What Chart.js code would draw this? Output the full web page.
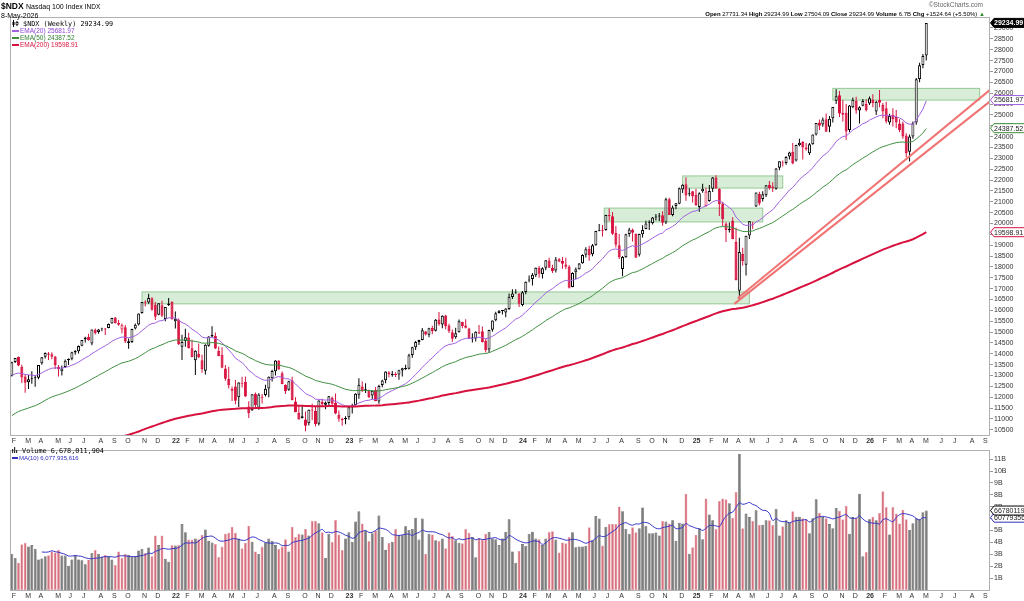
<!DOCTYPE html>
<html><head><meta charset="utf-8">
<script src="https://cdn.jsdelivr.net/npm/chart.js@4.4.1/dist/chart.umd.min.js"></script>
<style>
html,body{margin:0;padding:0;background:#fff;width:1024px;height:601px;overflow:hidden;position:relative;font-family:"Liberation Sans",Arial,sans-serif;color:#000;}
canvas{position:absolute;left:0;}
#c1{top:0;}
#c2{top:445px;}
.t{position:absolute;white-space:nowrap;line-height:1;z-index:5;}
.mono{font-family:"DejaVu Sans Mono",monospace;}
.ln{display:inline-block;width:7px;height:0;border-top:2px solid;vertical-align:middle;margin-right:1px;}
</style></head><body>
<canvas id="c1" width="1024" height="445"></canvas>
<canvas id="c2" width="1024" height="156"></canvas>

<div class="t" style="left:1px;top:2px;font-size:8.5px;font-weight:bold;">$NDX</div>
<div class="t" style="left:26px;top:3px;font-size:7px;">Nasdaq 100 Index <span style="font-size:6.5px">INDX</span></div>
<div class="t" style="left:1px;top:12px;font-size:7px;">8-May-2026</div>
<div class="t" style="right:41px;top:2px;font-size:6.5px;color:#666;">&copy;StockCharts.com</div>
<div class="t" style="right:39px;top:11px;font-size:6px;"><b>Open</b> 27731.34 <b>High</b> 29234.99 <b>Low</b> 27504.09 <b>Close</b> 29234.99 <b>Volume</b> 6.7B <b>Chg</b> +1524.64 (+5.50%) <span style="color:#2a8a2a">&#9650;</span></div>

<div class="t mono" style="left:12px;top:20px;font-size:6.8px;"><svg width="7" height="7" style="vertical-align:-1px"><line x1="1.5" y1="0" x2="1.5" y2="7" stroke="#000"/><rect x="0.5" y="2" width="2" height="3" fill="#000"/><line x1="5" y1="1" x2="5" y2="6" stroke="#000"/><rect x="4" y="2.5" width="2" height="2" fill="#fff" stroke="#000" stroke-width="0.7"/></svg> $NDX (Weekly) 29234.99</div>
<div class="t" style="left:12px;top:28px;font-size:6.5px;color:#8e44d6;"><span class="ln" style="border-color:#a060e0"></span>EMA(20) 25681.97</div>
<div class="t" style="left:12px;top:35px;font-size:6.5px;color:#2f7f2f;"><span class="ln" style="border-color:#3f8f3f"></span>EMA(50) 24387.52</div>
<div class="t" style="left:12px;top:42px;font-size:6.5px;color:#d8123e;"><span class="ln" style="border-color:#d8123e"></span>EMA(200) 19598.91</div>

<div class="t mono" style="left:12px;top:447px;font-size:6.8px;"><svg width="6" height="6" style="vertical-align:0px"><rect x="0" y="2" width="1.2" height="4" fill="#333"/><rect x="2" y="0" width="1.2" height="6" fill="#333"/><rect x="4" y="3" width="1.2" height="3" fill="#333"/></svg> Volume 6,678,011,904</div>
<div class="t" style="left:12px;top:455px;font-size:6px;color:#3030c0;"><span class="ln" style="border-color:#3030c0;width:6px"></span>MA(10) 6,077,935,616</div>

<script>
// ---------------- DATA ----------------
const firstWeek = '2021-02-05';
const opens = [12990,13620,13850,13400,12960,12690,12850,12920,12900,13560,
13860,14010,13980,13880,13400,13200,13390,13700,13770,14060,
14120,14370,14660,14770,14480,15110,15000,15130,15150,15190,
15400,15670,15420,15120,15220,14500,14540,15160,15350,15880,
16400,16360,16560,16260,15800,16230,15600,16250,16380,15500,
15560,14330,14590,14750,14260,13700,14000,13700,13220,14370,
14800,14820,14130,13960,13320,12840,12300,12500,12000,12650,
12700,11570,11400,12150,11520,12020,12100,12400,12870,13200,
13680,13100,12560,12340,12780,11800,11280,11130,10980,10800,
11440,11380,10780,11780,11660,11740,11980,11740,11200,11000,
10990,11080,11530,11640,12120,12500,12330,12320,12080,12330,
11810,12560,12780,13140,13010,13050,13050,13230,13310,13310,
13950,14300,14540,14640,15030,14880,15190,15060,15580,15350,
15760,15300,14990,14760,14990,15470,15300,15170,14750,14700,
14930,15040,14600,14200,15110,15540,15880,15990,15900,16060,
16620,16790,16780,16250,16850,17370,17440,17620,17950,17670,
17960,18300,17960,17830,18350,18270,18110,18020,17070,17750,
17890,18170,18560,18820,18580,19000,19660,19690,19700,20390,
20330,19570,19000,17900,18450,19520,19710,19520,18560,19500,
19750,20040,20010,20280,20340,20380,20050,21120,20390,20810,
20910,21560,21810,21350,21480,21310,20760,21480,20800,21040,
21600,22120,21590,20920,20000,19700,20120,19150,16900,18600,
18100,19450,19950,20780,21360,21130,21300,21770,21700,21600,
22560,22800,22790,23080,23300,22900,23600,23750,23500,23230,
23650,24100,24650,24560,24800,24450,24850,25650,25900,25100,
25100,24300,25350,25650,25200,25420,25500,25520,25700,25150,
25680,25450,25300,24650,25000,24900,24600,24600,24050,23300,
24000,24650,26650,27300,27731.34];
const highs = [13640,13810,13880,13500,13050,13030,13200,13000,13490,13850,
14060,14080,14070,13900,13480,13460,13740,13780,14090,14180,
14380,14640,14790,14920,15120,15170,15140,15200,15190,15390,
15660,15700,15560,15400,15330,14700,15150,15390,15860,16390,
16460,16770,16600,16390,16330,16440,16160,16570,16420,15950,
15620,14880,15150,14970,14650,14160,14470,13960,14440,14810,
15270,14980,14340,14300,13480,13400,12500,12790,12690,12940,
12950,11820,12140,12220,12180,12150,12570,12960,13270,13700,
13720,13190,12600,12760,12940,12000,11640,11600,11340,11440,
11700,11600,11860,11930,11800,12060,12030,12170,11390,11060,
11130,11560,11700,12180,12880,12720,12640,12340,12310,12470,
12580,12800,13190,13210,13210,13150,13270,13360,13500,14000,
14320,14590,14650,15190,15050,15200,15290,15600,15930,15770,
15800,15380,15120,15200,15580,15480,15590,15200,14950,15040,
15330,15260,14710,15110,15530,15940,16020,16020,16100,16780,
16970,16970,16790,16890,17330,17600,17720,17970,18040,17980,
18310,18420,18100,18460,18410,18460,18420,18080,17760,17970,
18180,18580,18910,18980,19060,19660,19980,19930,20400,20690,
20530,19880,19520,18500,19530,19800,19770,19540,19530,19920,
20130,20150,20300,20440,20480,20560,21180,21180,20830,20940,
21660,21810,22130,21620,21500,21600,21440,21830,21650,21770,
22140,22220,21620,21000,20060,20050,20290,19800,19340,18880,
19440,20110,20080,21430,21460,21480,21770,21950,21900,22550,
22870,22900,23100,23300,23700,23620,23900,23800,23700,23700,
24100,24630,24790,24880,25060,24950,25360,26180,26100,25680,
25500,25450,25800,25830,25400,25730,25720,25850,25950,25650,
26150,25550,25600,25050,25300,25220,24800,24700,24150,24100,
24700,26700,27400,27800,29234.99];
const lows = [12950,13580,13430,12660,12210,12380,12620,12480,12830,13500,
13780,13720,13750,13300,12950,13000,13350,13480,13700,13960,
14010,14350,14520,14600,14390,14890,14920,15040,14870,15180,
15390,15400,15290,14950,14500,14230,14500,15120,15300,15840,
16180,16300,15980,15560,15780,15690,15500,16200,15570,15170,
14400,13720,14320,14240,13840,13020,13800,13130,13050,14330,
14760,14220,13890,13330,12760,12400,11830,11680,11550,12450,
12020,11040,11370,11500,11430,11710,12040,12000,12720,13000,
13270,12600,12150,12300,11860,11310,10970,11020,10440,10700,
10950,10650,10700,11570,11450,11580,11590,11220,10870,10690,
10760,10960,11250,11620,11930,12240,12200,11970,11910,11820,
11700,12460,12650,12920,12940,12930,12800,12950,13250,13280,
13820,14180,14400,14620,14840,14760,14900,15030,15290,15180,
15130,14960,14560,14690,14980,15180,15170,14680,14520,14570,
14910,14520,14060,14060,15010,15500,15860,15810,15680,16020,
16520,16760,16160,16190,16740,17300,17150,17540,17500,17470,
17850,17960,17720,17740,18220,17920,17900,17010,17060,17440,
17880,18150,18430,18280,18490,18970,19640,19400,19670,20120,
19470,18890,18370,17570,18420,19390,19170,18420,18480,19350,
19740,19700,19950,20140,20110,19900,19980,20390,20330,20660,
20880,21400,21050,21250,20970,20800,20540,21420,20770,21000,
21450,21600,20350,19880,19150,19580,19270,17380,16540,18050,
17600,19280,19750,20760,20830,21010,21220,21550,21450,21550,
22450,22620,22700,22950,22730,22850,23550,22950,23350,23150,
23620,24050,24300,24450,24220,24200,24650,25500,24900,24700,
23850,24200,25300,25050,24600,25400,25150,25450,25350,24990,
25350,24840,24610,24550,24460,24380,24200,23900,23050,22850,
23900,24550,26500,27150,27504.09];
const closes = [13613,13808,13460,12909,12668,12823,12849,12879,13480,13845,
14041,13951,13860,13480,13296,13322,13686,13770,14069,14129,
14359,14640,14756,14626,15117,14959,15122,15164,15137,15375,
15653,15405,15336,15311,14566,14579,15146,15335,15850,16385,
16351,16573,16026,15711,16325,15751,16156,16320,15594,15611,
14438,14543,14757,14253,13849,14141,13838,13301,14419,14797,
14862,14245,13902,13355,12855,12552,12387,11835,12681,12606,
12035,11264,12135,11636,12125,11980,12397,12947,13206,13696,
13277,12605,12271,12740,11862,11312,10971,11040,10692,11429,
11395,10756,11851,11677,11758,12045,11705,11247,11015,10940,
11040,11542,11619,12166,12574,12304,12359,12008,12302,11830,
12520,12767,13181,13062,13079,13041,13246,13339,13340,13938,
14298,14547,14639,15083,14891,15180,15036,15565,15358,15751,
15274,15035,14695,14941,15501,15284,15203,14702,14715,15015,
14996,14540,14180,15097,15529,15868,15983,15998,16085,16623,
16777,16826,16306,16832,17314,17421,17642,17963,17685,17937,
18302,17962,17808,18339,18255,18148,18003,17037,17718,17891,
18161,18547,18808,18537,19000,19659,19700,19683,20392,20332,
19523,19023,18440,18452,19508,19721,19575,18421,19520,19702,
20000,20074,20272,20324,20352,20033,21118,20394,20740,20930,
21623,21781,21289,21393,21257,20847,21386,21603,21478,21491,
22115,21614,20884,20202,19704,19754,19282,17398,18690,18258,
19433,20102,19920,21427,20915,21340,21762,21631,21626,22534,
22867,22780,23065,23272,22763,23611,23713,23499,23415,23652,
24093,24626,24504,24785,24221,24818,25358,25858,25060,25008,
24239,25435,25692,25197,25346,25644,25220,25760,25550,25600,
25560,25150,24700,24950,24800,24650,24300,24000,23230,24000,
24620,26640,27290,27710.35,29234.99];
// weekly volume, billions of shares
const volumesB = [3.03,2.70,2.30,3.84,3.97,3.65,3.78,3.46,2.57,2.65,
2.84,2.92,3.24,3.16,3.38,2.89,2.89,2.03,2.57,2.97,
2.57,2.49,2.16,2.57,3.11,3.38,3.05,2.78,2.97,2.84,
2.57,2.11,3.24,2.70,3.05,2.97,2.78,2.84,3.32,3.46,
3.11,3.57,2.84,4.59,3.78,4.59,2.62,2.38,3.78,3.73,
3.78,5.54,4.86,4.24,4.24,4.32,4.27,4.65,5.08,4.11,
4.00,3.86,2.78,3.65,4.73,4.81,5.32,4.81,4.32,3.51,
3.97,5.40,4.05,3.24,3.03,3.65,4.00,4.32,4.13,3.78,
3.46,3.65,4.27,3.24,5.32,4.46,4.73,4.67,5.13,4.59,
5.81,5.81,5.62,4.86,2.70,4.73,4.05,5.89,4.67,3.38,
4.32,4.86,4.05,5.75,6.62,5.59,5.00,4.11,4.78,5.00,
6.27,4.46,3.38,3.97,4.05,5.13,4.65,4.65,5.35,5.05,
5.13,6.08,4.24,6.00,3.05,4.73,4.67,4.19,4.11,4.32,
3.51,4.86,4.54,4.19,3.97,3.92,5.13,4.81,4.46,2.76,
4.40,4.24,4.73,4.89,4.32,4.27,3.78,4.32,4.89,5.94,
3.24,2.30,3.30,3.86,3.70,4.73,4.89,4.32,4.27,3.78,
4.32,4.89,4.94,4.24,3.16,4.00,3.92,4.46,4.86,3.59,
3.65,3.65,3.70,5.27,4.19,6.21,6.00,3.73,5.32,5.54,
5.54,5.54,7.02,6.62,5.13,4.73,5.27,4.86,5.19,6.94,
5.40,4.78,4.78,4.84,4.59,5.81,5.75,5.59,5.86,4.13,
5.65,5.59,8.10,3.05,3.59,4.65,5.19,4.27,7.70,6.35,
5.86,5.13,7.48,7.70,7.62,7.29,6.08,8.24,11.43,5.19,
6.43,6.13,5.81,6.70,5.46,5.48,5.86,5.86,5.48,6.83,
4.59,5.35,5.86,5.67,6.62,6.16,6.16,6.02,5.94,4.78,
6.02,7.62,6.48,6.13,6.02,5.54,5.19,6.89,6.67,5.94,
7.08,4.73,6.13,6.08,8.10,2.84,3.19,5.94,6.16,5.86,
6.48,8.29,6.97,4.67,6.97,6.43,5.59,6.75,5.94,5.05,
5.62,6.02,5.94,6.54,6.678011904];
const priceTicks = [10500,11000,11500,12000,12500,13000,13500,14000,14500,15000,15500,16000,16500,17000,17500,18000,18500,19000,19500,20000,20500,21000,21500,22000,22500,23000,23500,24000,24500,25000,25500,26000,26500,27000,27500,28000,28500,29000];
const volTicksB = [1,2,3,4,5,6,7,8,9,10,11];
const monthLetters = ['J','F','M','A','M','J','J','A','S','O','N','D'];
// EMA values at the first week
const ema20First = 13000, ema50First = 11150, ema200First = 8600;
// annotation boxes (week index, price)
const boxStart = [39, 177.5, 201, 246];
const boxEnd   = [221, 225, 231, 290];
const boxLow   = [16300, 20070, 21630, 25680];
const boxHigh  = [16850, 20710, 22190, 26220];
// trend lines (week index, price)
const trendX1 = [217.5, 216.5], trendY1 = [16560, 16300];
const trendX2 = [293.1, 293.1], trendY2 = [26150, 25620];
// axis tags (from reference)
const lastClose = 29234.99, ema20Last = 25681.97, ema50Last = 24387.52, ema200Last = 19598.91;
const volLast = 6678011904, volMaLast = 6077935616;

// ---------------- BUILD ----------------
const N = closes.length;
const X_MIN = -0.54, X_MAX = 293.1;
const RED = '#d8123e';
const t0 = Date.parse(firstWeek + 'T00:00:00Z');
const monthTicks = [], tickLabel = {}, tickYear = {};
let pm = -1;
for (let i = 0; i <= 293; i++) {
  const d = new Date(t0 + i * 7 * 864e5);
  const m = d.getUTCMonth();
  if (m !== pm) {
    monthTicks.push(i);
    if (m === 0) { tickLabel[i] = String(d.getUTCFullYear() % 100); tickYear[i] = true; }
    else tickLabel[i] = monthLetters[m];
  }
  pm = m;
}
function ema(arr, first, n) {
  const k = 2 / (n + 1), out = [first];
  for (let i = 1; i < arr.length; i++) out.push(out[i - 1] + k * (arr[i] - out[i - 1]));
  return out;
}
const e20 = ema(closes, ema20First, 20), e50 = ema(closes, ema50First, 50), e200 = ema(closes, ema200First, 200);
const vol = volumesB.map(v => v * 1e9);
const volMA = [];
for (let i = 9; i < N; i++) { let s = 0; for (let j = i - 9; j <= i; j++) s += vol[j]; volMA.push({x: i, y: s / 10}); }

const candleCol = [], bodyFill = [], volFill = [], volBorder = [];
for (let i = 0; i < N; i++) {
  const prev = i > 0 ? closes[i - 1] : opens[i];
  const up = closes[i] >= prev;
  const c = up ? '#000000' : RED;
  candleCol.push(c);
  bodyFill.push(closes[i] > opens[i] ? '#ffffff' : c);
  volFill.push(up ? '#7c7c7c' : '#d7707e');
  volBorder.push(up ? '#5a5a5a' : '#e6a0aa');
}
const wickData = closes.map((c, i) => ({x: i, y: [lows[i], highs[i]]}));
const bodyData = closes.map((c, i) => {
  let a = Math.min(opens[i], c), b = Math.max(opens[i], c);
  if (b - a < 40) { const m = (a + b) / 2; a = m - 20; b = m + 20; }
  return {x: i, y: [a, b]};
});
const pts = arr => arr.map((v, i) => ({x: i, y: v}));

const FONT = '"Liberation Sans", Arial, sans-serif';
function xAxis() {
  return {
    type: 'linear', min: X_MIN, max: X_MAX, offset: false,
    afterBuildTicks: s => { s.ticks = monthTicks.map(v => ({value: v})); },
    afterFit: s => { s.height = s.chart.canvas.id === 'c1' ? 10 : 11; },
    grid: {display: false, drawTicks: false},
    border: {display: false},
    ticks: {
      autoSkip: false, maxRotation: 0, minRotation: 0, padding: 2, align: 'start', color: '#333',
      callback: v => tickLabel[v] || '',
      font: c => ({family: FONT, size: 7, weight: (c.tick && tickYear[c.tick.value]) ? 'bold' : 'normal'})
    }
  };
}
function tagShape(ctx, yC, text, stroke, fill, tcol, bold) {
  const xL = 990.5, w = 34, h = 9;
  ctx.beginPath();
  ctx.moveTo(xL, yC);
  ctx.lineTo(xL + 3.5, yC - h / 2);
  ctx.lineTo(xL + w, yC - h / 2);
  ctx.lineTo(xL + w, yC + h / 2);
  ctx.lineTo(xL + 3.5, yC + h / 2);
  ctx.closePath();
  ctx.fillStyle = fill; ctx.fill();
  ctx.lineWidth = 1; ctx.strokeStyle = stroke; ctx.stroke();
  ctx.fillStyle = tcol;
  ctx.font = (bold ? 'bold ' : '') + '7px ' + FONT;
  ctx.textAlign = 'left'; ctx.textBaseline = 'middle';
  ctx.fillText(text, xL + 3.5, yC + 0.5);
}
function frame(chart) {
  const {ctx, chartArea: a} = chart;
  ctx.save();
  ctx.strokeStyle = '#b0b0b0'; ctx.lineWidth = 1;
  ctx.strokeRect(Math.round(a.left) + 0.5, Math.round(a.top) + 0.5, Math.round(a.right - a.left) - 1, Math.round(a.bottom - a.top));
  ctx.restore();
}
const pricePlugin = {
  id: 'pricePlugin',
  beforeDatasetsDraw(chart) {
    const {ctx, chartArea: a, scales: {x, y}} = chart;
    ctx.save();
    ctx.beginPath(); ctx.rect(a.left, a.top, a.right - a.left, a.bottom - a.top); ctx.clip();
    for (let k = 0; k < boxStart.length; k++) {
      const x1 = x.getPixelForValue(boxStart[k]), x2 = x.getPixelForValue(boxEnd[k]);
      const y1 = y.getPixelForValue(boxHigh[k]), y2 = y.getPixelForValue(boxLow[k]);
      ctx.fillStyle = 'rgba(168,214,168,0.45)';
      ctx.fillRect(x1, y1, x2 - x1, y2 - y1);
      ctx.strokeStyle = 'rgba(120,185,120,0.75)'; ctx.lineWidth = 1;
      ctx.strokeRect(x1, y1, x2 - x1, y2 - y1);
    }
    ctx.restore();
  },
  afterDatasetsDraw(chart) {
    const {ctx, chartArea: a, scales: {x, y}} = chart;
    ctx.save();
    ctx.beginPath(); ctx.rect(a.left, a.top, a.right - a.left, a.bottom - a.top); ctx.clip();
    ctx.strokeStyle = '#f07474'; ctx.lineWidth = 2;
    for (let k = 0; k < trendX1.length; k++) {
      ctx.beginPath();
      ctx.moveTo(x.getPixelForValue(trendX1[k]), y.getPixelForValue(trendY1[k]));
      ctx.lineTo(x.getPixelForValue(trendX2[k]), y.getPixelForValue(trendY2[k]));
      ctx.stroke();
    }
    ctx.restore();
  },
  afterDraw(chart) {
    frame(chart);
    const {ctx, scales: {y}} = chart;
    ctx.save();
    tagShape(ctx, y.getPixelForValue(ema200Last), '19598.91', RED, '#fff', '#222', false);
    tagShape(ctx, y.getPixelForValue(ema50Last), '24387.52', '#3f8f3f', '#fff', '#222', false);
    tagShape(ctx, y.getPixelForValue(ema20Last), '25681.97', '#a060e0', '#fff', '#222', false);
    tagShape(ctx, Math.max(y.getPixelForValue(lastClose), 22), '29234.99', '#000', '#000', '#fff', true);
    ctx.restore();
  }
};
const volPlugin = {
  id: 'volPlugin',
  afterDraw(chart) {
    frame(chart);
    const {ctx, scales: {y}} = chart;
    ctx.save();
    tagShape(ctx, y.getPixelForValue(volMaLast), '6077935616', '#3030c0', '#fff', '#222', false);
    tagShape(ctx, y.getPixelForValue(volLast), '6678011904', '#000', '#fff', '#222', false);
    ctx.restore();
  }
};

Chart.defaults.font.family = FONT;
new Chart(document.getElementById('c1'), {
  type: 'bar',
  data: {
    datasets: [
      {type: 'line', data: pts(e200), borderColor: '#d8123e', borderWidth: 2, pointRadius: 0, tension: 0, order: 0},
      {type: 'line', data: pts(e50), borderColor: '#3f8f3f', borderWidth: 1, pointRadius: 0, tension: 0, order: 0},
      {type: 'line', data: pts(e20), borderColor: '#a060e0', borderWidth: 1, pointRadius: 0, tension: 0, order: 0},
      {type: 'bar', data: bodyData, backgroundColor: bodyFill, borderColor: candleCol, borderWidth: 1, borderSkipped: false, barThickness: 3, grouped: false, inflateAmount: 0, order: 1},
      {type: 'bar', data: wickData, backgroundColor: candleCol, borderWidth: 0, barThickness: 1, grouped: false, inflateAmount: 0, order: 2}
    ]
  },
  options: {
    responsive: false, animation: false, devicePixelRatio: 1,
    layout: {padding: {left: 10, top: 17, right: 0, bottom: 0}},
    plugins: {legend: {display: false}, tooltip: {enabled: false}},
    scales: {
      x: xAxis(),
      y: {
        type: 'linear', position: 'right', min: 10262, max: 29506,
        afterBuildTicks: s => { s.ticks = priceTicks.map(v => ({value: v})); },
        afterFit: s => { s.width = 34; },
        grid: {drawOnChartArea: false, drawTicks: true, tickLength: 3, color: '#999'},
        border: {display: false},
        ticks: {autoSkip: false, padding: 1, color: '#333', font: {size: 7, family: FONT}, callback: v => String(v)}
      }
    }
  },
  plugins: [pricePlugin]
});

new Chart(document.getElementById('c2'), {
  type: 'bar',
  data: {
    datasets: [
      {type: 'line', data: volMA, borderColor: '#3434c8', borderWidth: 1, pointRadius: 0, tension: 0.3, order: 0},
      {type: 'bar', data: pts(vol), backgroundColor: volFill, borderColor: volBorder, borderWidth: 0.6, borderSkipped: false, barThickness: 2.9, grouped: false, inflateAmount: 0, order: 1}
    ]
  },
  options: {
    responsive: false, animation: false, devicePixelRatio: 1,
    layout: {padding: {left: 10, top: 0, right: 0, bottom: 0}},
    plugins: {legend: {display: false}, tooltip: {enabled: false}},
    scales: {
      x: xAxis(),
      y: {
        type: 'linear', position: 'right', min: 0, max: 11.75e9,
        afterBuildTicks: s => { s.ticks = volTicksB.map(v => ({value: v * 1e9})); },
        afterFit: s => { s.width = 34; },
        grid: {drawOnChartArea: false, drawTicks: true, tickLength: 3, color: '#999'},
        border: {display: false},
        ticks: {autoSkip: false, padding: 1, color: '#333', font: {size: 7, family: FONT}, callback: v => Math.round(v / 1e9) + 'B'}
      }
    }
  },
  plugins: [volPlugin]
});
</script>
</body></html>
